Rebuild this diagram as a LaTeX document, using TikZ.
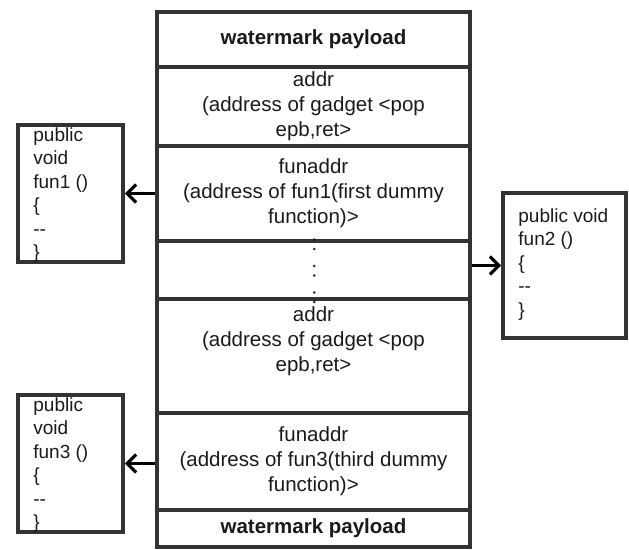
\documentclass[tikz,border=0pt]{standalone}
\usepackage{fontspec}
\setmainfont{Liberation Sans}
\usetikzlibrary{arrows.meta}
\definecolor{framegray}{HTML}{333333}
\definecolor{inkgray}{HTML}{1A1A1A}
\newcommand{\stackfont}{\fontsize{20.5}{25}\selectfont}
\newcommand{\codefont}{\fontsize{19}{23.5}\selectfont}
\begin{document}
\begin{tikzpicture}[x=1pt,y=-1pt,
  cell/.style={draw=framegray, line width=3.6pt, minimum width=313pt, inner sep=0pt,
    align=center, text=inkgray, font=\stackfont},
  txt/.style={inner sep=0pt, align=center, text=inkgray, font=\stackfont},
  funbox/.style={draw=framegray, line width=3.6pt, inner sep=0pt},
  code/.style={inner sep=0pt, align=left, text=inkgray, font=\codefont},
  ptr/.style={line width=3.2pt, -{Straight Barb[length=9pt,width=18pt,line width=3.2pt]}}]
\useasboundingbox (0,0) rectangle (629,549);

% the stack
\node[cell, minimum height=55pt] (wm1) at (313.5,39.5) {\textbf{watermark payload}};
\node[cell, minimum height=79pt] (ad1) at (313.5,106.5) {addr\\(address of gadget <pop\\epb,ret>};
\node[cell, minimum height=95pt] (fa1) at (313.5,193.5) {funaddr\\(address of fun1(first dummy\\function)>};
\node[cell, minimum height=58pt] (dots) at (313.5,270.5) {};
\node[cell, minimum height=114pt] (ad2) at (313.5,356) {};
\node[txt, anchor=north] (ad2t) at ([yshift=-9pt]ad2.north) {addr\\(address of gadget <pop\\epb,ret>};
\node[cell, minimum height=97pt] (fa3) at (313.5,461.5) {funaddr\\(address of fun3(third dummy\\function)>};
\node[cell, minimum height=37pt] (wm2) at (313.5,528.5) {\textbf{watermark payload}};

% vertical dots
\foreach \y in {239.5,249,266,275.5,292.5,302}
  \fill[inkgray] (314.3,\y) circle (1.4pt);

% the dummy functions
\node[funbox, minimum width=105pt, minimum height=137pt] (fun1) at (70.5,193.5) {};
\node[code, anchor=north west] (fun1t) at ([xshift=17pt,yshift=-4pt]fun1.north west) {public\\void\\fun1 ()\\\{\\-{}-\\\}};
\node[funbox, minimum width=123pt, minimum height=145pt] (fun2) at (564.5,265.5) {};
\node[code, anchor=north west] (fun2t) at ([xshift=17pt,yshift=-17pt]fun2.north west) {public void\\fun2 ()\\\{\\-{}-\\\}};
\node[funbox, minimum width=105pt, minimum height=137pt] (fun3) at (70.5,463.5) {};
\node[code, anchor=north west] (fun3t) at ([xshift=17pt,yshift=-4pt]fun3.north west) {public\\void\\fun3 ()\\\{\\-{}-\\\}};

% pointers
\draw[ptr] (fa1.west) -- (fun1.east);
\draw[ptr] (dots.east |- fun2.west) -- (fun2.west);
\draw[ptr] (fa3.west |- fun3.east) -- (fun3.east);
\end{tikzpicture}
\end{document}
